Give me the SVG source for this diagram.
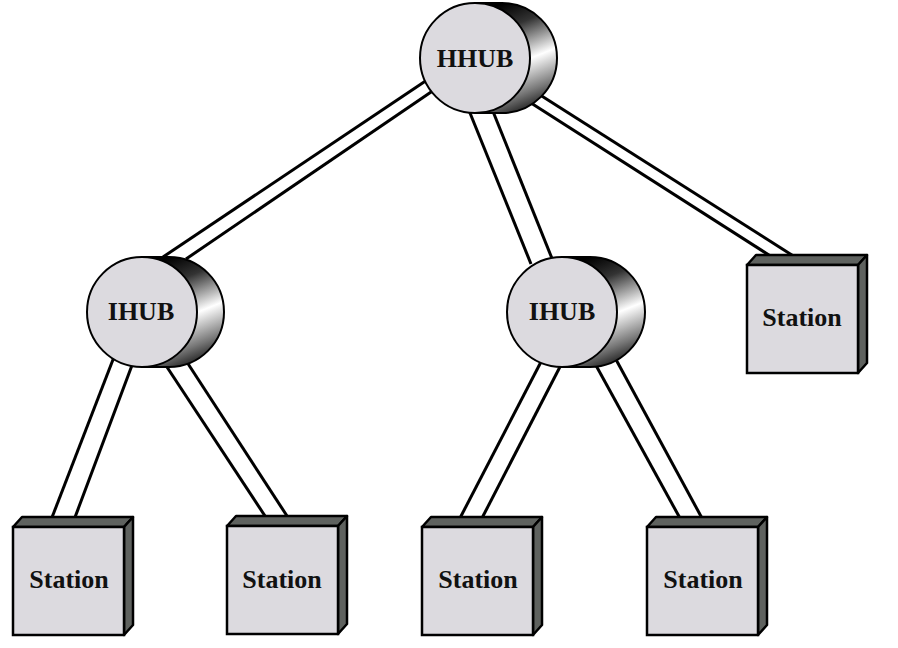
<svg xmlns="http://www.w3.org/2000/svg" width="898" height="648" viewBox="0 0 898 648">
<style>
.face{fill:#dcdadf;stroke:#000;stroke-width:2.5}
.dark{fill:#5f625f;stroke:#000;stroke-width:2.5;stroke-linejoin:round}
.hubf{fill:#dcdadf;stroke:#000;stroke-width:2}
.hubb{fill:url(#cyl);stroke:#000;stroke-width:2}
.lbl{font-family:"Liberation Serif","Times New Roman",serif;font-weight:bold;font-size:26px;fill:#111;text-anchor:middle}
.wire{stroke:#000;stroke-width:3;stroke-linecap:butt;fill:none}
</style>
<defs>
<linearGradient id="cyl" x1="0.35" y1="0" x2="0.65" y2="1">
<stop offset="0" stop-color="#000"/>
<stop offset="0.22" stop-color="#333"/>
<stop offset="0.55" stop-color="#fff"/>
<stop offset="0.82" stop-color="#777"/>
<stop offset="1" stop-color="#111"/>
</linearGradient>
</defs>
<rect width="898" height="648" fill="#fff"/>
<g id="connectors">
<line class="wire" x1="430" y1="78" x2="163" y2="257"/>
<line class="wire" x1="434" y1="90" x2="186" y2="259"/>
<line class="wire" x1="468" y1="108" x2="531" y2="264"/>
<line class="wire" x1="490" y1="104" x2="553" y2="261"/>
<line class="wire" x1="537" y1="93" x2="795" y2="257"/>
<line class="wire" x1="531" y1="103" x2="772" y2="257"/>
<line class="wire" x1="114" y1="357" x2="51" y2="520"/>
<line class="wire" x1="134" y1="360" x2="74" y2="520"/>
<line class="wire" x1="163" y1="361" x2="267" y2="519"/>
<line class="wire" x1="183" y1="356" x2="289" y2="519"/>
<line class="wire" x1="543" y1="358" x2="459" y2="520"/>
<line class="wire" x1="563" y1="361" x2="481" y2="520"/>
<line class="wire" x1="593" y1="360" x2="681" y2="520"/>
<line class="wire" x1="613" y1="354" x2="703" y2="520"/>
</g>
<g id="hhub">
<path class="hubb" d="M475,3 L502,3 A55,55 0 0 1 502,113 L475,113 Z"/>
<circle class="hubf" cx="475" cy="58" r="55"/>
<text class="lbl" x="475" y="67">HHUB</text>
</g>
<g id="ihub-left">
<path class="hubb" d="M142,257 L169,257 A55,55 0 0 1 169,367 L142,367 Z"/>
<circle class="hubf" cx="142" cy="312" r="55"/>
<text class="lbl" x="141" y="320">IHUB</text>
</g>
<g id="ihub-right">
<path class="hubb" d="M562,257 L590,257 A55,55 0 0 1 590,367 L562,367 Z"/>
<circle class="hubf" cx="562" cy="312" r="55"/>
<text class="lbl" x="562" y="320">IHUB</text>
</g>
<g id="station-right">
<polygon class="dark" points="747,265 756,255 867,255 858,265"/>
<polygon class="dark" points="858,265 867,255 867,363 858,373"/>
<rect class="face" x="747" y="265" width="111" height="108"/>
<text class="lbl" x="802" y="326">Station</text>
</g>
<g id="station-1">
<polygon class="dark" points="13,527 22,517 133,517 124,527"/>
<polygon class="dark" points="124,527 133,517 133,625 124,635"/>
<rect class="face" x="13" y="527" width="111" height="108"/>
<text class="lbl" x="69" y="588">Station</text>
</g>
<g id="station-2">
<polygon class="dark" points="227,526 236,516 347,516 338,526"/>
<polygon class="dark" points="338,526 347,516 347,624 338,634"/>
<rect class="face" x="227" y="526" width="111" height="108"/>
<text class="lbl" x="282" y="588">Station</text>
</g>
<g id="station-3">
<polygon class="dark" points="422,527 431,517 542,517 533,527"/>
<polygon class="dark" points="533,527 542,517 542,625 533,635"/>
<rect class="face" x="422" y="527" width="111" height="108"/>
<text class="lbl" x="478" y="588">Station</text>
</g>
<g id="station-4">
<polygon class="dark" points="647,527 656,517 767,517 758,527"/>
<polygon class="dark" points="758,527 767,517 767,625 758,635"/>
<rect class="face" x="647" y="527" width="111" height="108"/>
<text class="lbl" x="703" y="588">Station</text>
</g>
</svg>
